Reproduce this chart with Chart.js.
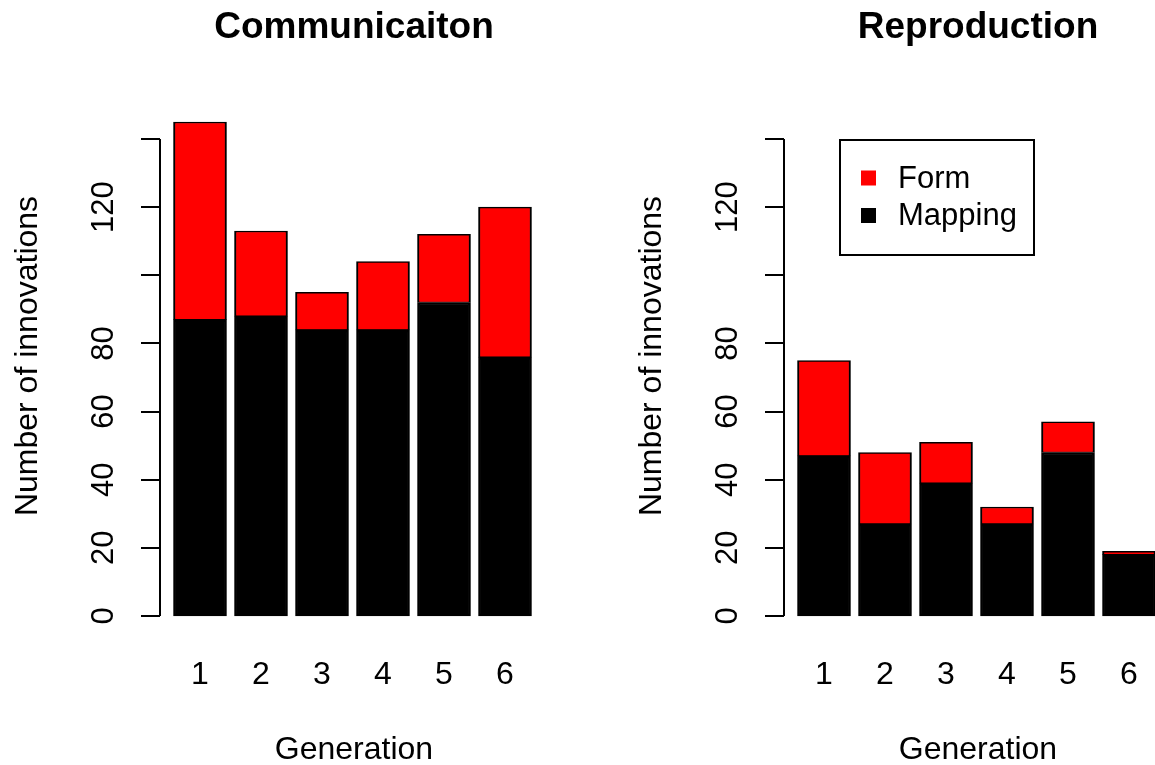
<!DOCTYPE html>
<html lang="en">
<head>
    <meta charset="UTF-8">
    <title>Communication / Reproduction innovations</title>
    <script src="https://cdn.jsdelivr.net/npm/chart.js"></script>
    <style>
        html, body {
            margin: 0;
            padding: 0;
            background: #fff;
            overflow: hidden;
            width: 1155px;
            height: 765px;
        }
        .panel {
            position: absolute;
            top: 0;
        }
        #commChart { left: 0; }
        #reproChart { left: 624px; }
    </style>
</head>
<body>
    <canvas id="commChart" class="panel" width="624" height="765"></canvas>
    <canvas id="reproChart" class="panel" width="624" height="765"></canvas>

    <script>
        const generations = ['1', '2', '3', '4', '5', '6'];
        const commMapping = [87, 88, 84, 84, 92, 76];
        const commForm = [58, 25, 11, 20, 20, 44];
        const reproMapping = [47, 27, 39, 27, 48, 18];
        const reproForm = [28, 21, 12, 5, 9, 1];
        const yTicks = [0, 20, 40, 60, 80, 100, 120, 140];
        const yTickLabels = ['0', '20', '40', '60', '80', '', '120', ''];
        const seriesNames = ['Form', 'Mapping'];
        const seriesColors = ['#ff0000', '#000000'];

        const FONT = '"Liberation Sans", Arial, Helvetica, sans-serif';

        function rotatedText(ctx, text, x, y) {
            ctx.save();
            ctx.translate(x, y);
            ctx.rotate(-Math.PI / 2);
            ctx.textAlign = 'center';
            ctx.textBaseline = 'middle';
            ctx.fillText(text, 0, 0);
            ctx.restore();
        }

        // R-style axes, titles and (optionally) the legend box
        function basePlot(title, withKey) {
            return {
                id: 'basePlot',
                afterDraw(chart) {
                    const ctx = chart.ctx;
                    const x = chart.scales.x;
                    const y = chart.scales.y;
                    const axisX = 160;
                    ctx.save();
                    ctx.strokeStyle = '#000';
                    ctx.fillStyle = '#000';
                    ctx.lineWidth = 2;

                    // y axis
                    ctx.beginPath();
                    ctx.moveTo(axisX, y.getPixelForValue(yTicks[0]));
                    ctx.lineTo(axisX, y.getPixelForValue(yTicks[yTicks.length - 1]));
                    yTicks.forEach(v => {
                        const py = Math.round(y.getPixelForValue(v));
                        ctx.moveTo(141, py);
                        ctx.lineTo(axisX, py);
                    });
                    ctx.stroke();

                    ctx.font = '31px ' + FONT;
                    yTicks.forEach((v, i) => {
                        if (yTickLabels[i]) rotatedText(ctx, yTickLabels[i], 104, y.getPixelForValue(v));
                    });

                    // x labels
                    ctx.font = '32px ' + FONT;
                    ctx.textAlign = 'center';
                    ctx.textBaseline = 'middle';
                    generations.forEach((g, i) => {
                        ctx.fillText(g, x.getPixelForValue(i), 675);
                    });
                    ctx.fillText('Generation', 354, 750);
                    rotatedText(ctx, 'Number of innovations', 28, 356);

                    ctx.font = 'bold 37px ' + FONT;
                    ctx.textAlign = 'center';
                    ctx.fillText(title, 354, 28);

                    if (withKey) {
                        ctx.lineWidth = 2;
                        ctx.strokeRect(216, 140, 194, 115);
                        ctx.font = '31px ' + FONT;
                        ctx.textAlign = 'left';
                        seriesNames.forEach((name, i) => {
                            const cy = 178 + i * 37.5;
                            ctx.fillStyle = seriesColors[i];
                            ctx.fillRect(237, cy - 7.5, 15, 15);
                            ctx.fillStyle = '#000';
                            ctx.fillText(name, 274, cy + 1);
                        });
                    }
                    ctx.restore();
                }
            };
        }

        function makeChart(id, title, mapping, form, withKey) {
            const ctx = document.getElementById(id).getContext('2d');
            return new Chart(ctx, {
                type: 'bar',
                data: {
                    labels: generations,
                    datasets: [{
                        label: seriesNames[1],
                        data: mapping,
                        backgroundColor: seriesColors[1],
                        borderColor: '#000',
                        borderWidth: 2,
                        borderSkipped: false,
                        clip: false
                    }, {
                        label: seriesNames[0],
                        data: form,
                        backgroundColor: seriesColors[0],
                        borderColor: '#000',
                        borderWidth: { top: 1.5, bottom: 1, left: 2, right: 2 },
                        borderSkipped: false,
                        clip: false
                    }]
                },
                options: {
                    responsive: false,
                    devicePixelRatio: 1,
                    animation: false,
                    layout: {
                        padding: { left: 169.5, right: 88.5, top: 139, bottom: 149 }
                    },
                    datasets: {
                        bar: { barThickness: 53, categoryPercentage: 1 }
                    },
                    scales: {
                        x: { stacked: true, display: false, offset: true },
                        y: { stacked: true, display: false, min: 0, max: 140 }
                    },
                    plugins: {
                        legend: { display: false },
                        tooltip: { enabled: false }
                    }
                },
                plugins: [basePlot(title, withKey)]
            });
        }

        makeChart('commChart', 'Communicaiton', commMapping, commForm, false);
        makeChart('reproChart', 'Reproduction', reproMapping, reproForm, true);
    </script>
</body>
</html>
